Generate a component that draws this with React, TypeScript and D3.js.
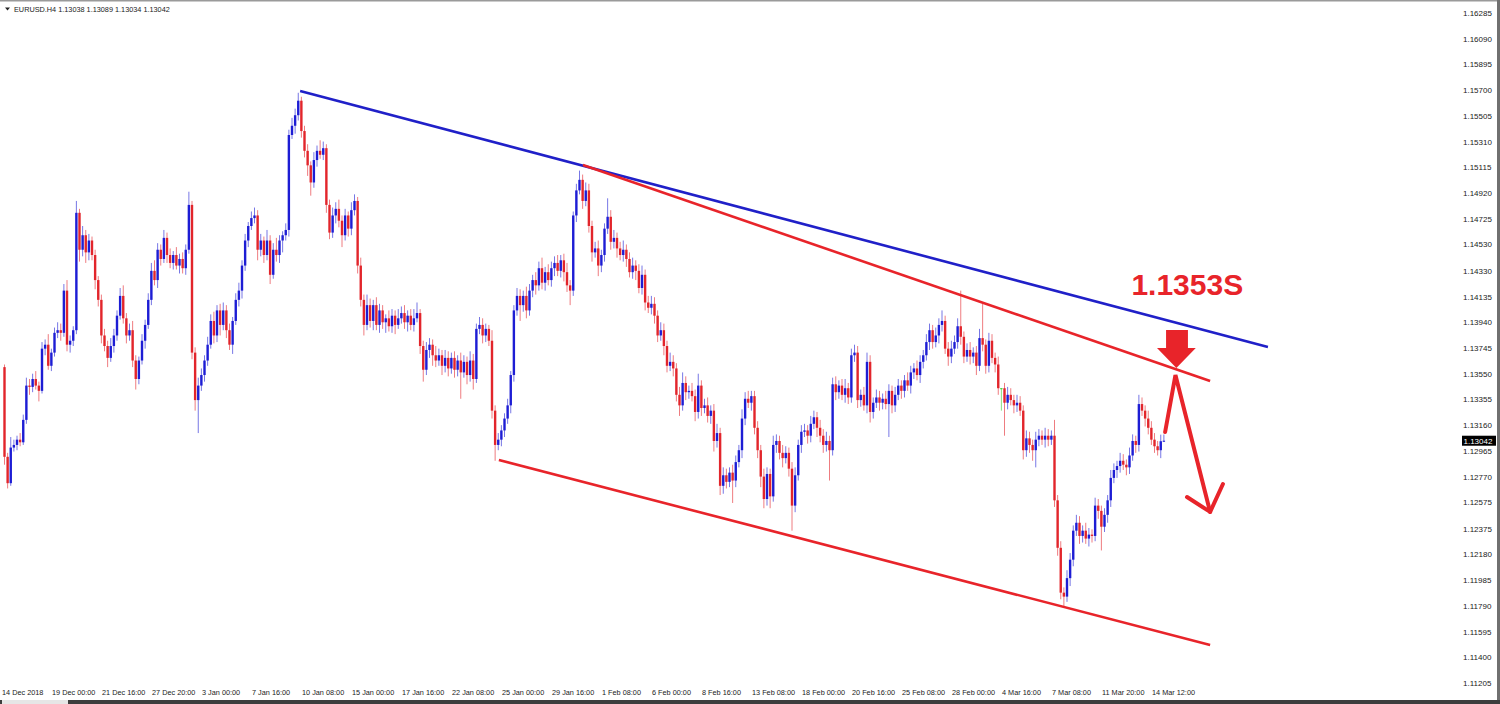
import * as d3 from 'd3';

// EURUSD H4, 14 Dec 2018 08:00 -> 14 Mar 2019 20:00
const SYMBOL = 'EURUSD.H4';
const lastBar = [1.13038, 1.13089, 1.13034, 1.13042]; // open, high, low, close
const firstOpen = 1.136;

const closes = [
  1.1292, 1.1272, 1.1299, 1.1301, 1.1305, 1.1303, 1.1320, 1.1346, 1.1345, 1.1351, 1.1346, 1.1342, 1.1374, 1.1377, 1.1361, 1.1371,
  1.1386, 1.1388, 1.1386, 1.1418, 1.1377, 1.1380, 1.1388, 1.1477, 1.1449, 1.1460, 1.1447, 1.1456, 1.1445, 1.1426, 1.1411, 1.1384,
  1.1376, 1.1367, 1.1376, 1.1384, 1.1399, 1.1414, 1.1397, 1.1384, 1.1388, 1.1365, 1.1351, 1.1365, 1.1380, 1.1392, 1.1411, 1.1433,
  1.1426, 1.1449, 1.1442, 1.1458, 1.1445, 1.1439, 1.1445, 1.1437, 1.1442, 1.1435, 1.1449, 1.1483, 1.1371, 1.1335, 1.1346, 1.1354,
  1.1365, 1.1377, 1.1395, 1.1384, 1.1403, 1.1392, 1.1403, 1.1388, 1.1377, 1.1395, 1.1411, 1.1418, 1.1437, 1.1456, 1.1467, 1.1473,
  1.1475, 1.1449, 1.1456, 1.1445, 1.1456, 1.1430, 1.1449, 1.1445, 1.1456, 1.1460, 1.1464, 1.1536, 1.1543, 1.1551, 1.1562, 1.1539,
  1.1524, 1.1513, 1.1500, 1.1517, 1.1524, 1.1521, 1.1526, 1.1483, 1.1462, 1.1475, 1.1480, 1.1471, 1.1460, 1.1475, 1.1465, 1.1479,
  1.1486, 1.1437, 1.1411, 1.1392, 1.1407, 1.1395, 1.1407, 1.1392, 1.1403, 1.1394, 1.1397, 1.1391, 1.1399, 1.1392, 1.1397, 1.1401,
  1.1394, 1.1399, 1.1392, 1.1397, 1.1401, 1.1376, 1.1358, 1.1373, 1.1377, 1.1369, 1.1365, 1.1369, 1.1361, 1.1367, 1.1359, 1.1367,
  1.1358, 1.1365, 1.1356, 1.1364, 1.1354, 1.1365, 1.1351, 1.1389, 1.1392, 1.1384, 1.1389, 1.1380, 1.1327, 1.1301, 1.1305, 1.1312,
  1.1321, 1.1331, 1.1354, 1.1403, 1.1414, 1.1407, 1.1414, 1.1403, 1.1418, 1.1426, 1.1422, 1.1435, 1.1424, 1.1432, 1.1426, 1.1435,
  1.1439, 1.1433, 1.1441, 1.1432, 1.1422, 1.1418, 1.1475, 1.1494, 1.1502, 1.1486, 1.1494, 1.1467, 1.1447, 1.1450, 1.1437, 1.1445,
  1.1465, 1.1474, 1.1455, 1.1458, 1.1450, 1.1445, 1.1449, 1.1442, 1.1432, 1.1437, 1.1433, 1.1420, 1.1430, 1.1409, 1.1405, 1.1408,
  1.1399, 1.1384, 1.1388, 1.1376, 1.1361, 1.1364, 1.1359, 1.1339, 1.1331, 1.1348, 1.1341, 1.1342, 1.1338, 1.1326, 1.1346, 1.1329,
  1.1331, 1.1323, 1.1327, 1.1304, 1.1310, 1.1270, 1.1278, 1.1273, 1.1280, 1.1274, 1.1288, 1.1297, 1.1321, 1.1336, 1.1333, 1.1338,
  1.1314, 1.1297, 1.1277, 1.1260, 1.1279, 1.1262, 1.1301, 1.1304, 1.1295, 1.1291, 1.1295, 1.1283, 1.1255, 1.1278, 1.1301, 1.1311,
  1.1312, 1.1308, 1.1317, 1.1322, 1.1314, 1.1308, 1.1301, 1.1304, 1.1297, 1.1347, 1.1341, 1.1346, 1.1339, 1.1344, 1.1337, 1.1369,
  1.1371, 1.1335, 1.1339, 1.1331, 1.1364, 1.1326, 1.1333, 1.1337, 1.1333, 1.1336, 1.1332, 1.1342, 1.1331, 1.1339, 1.1346, 1.1342,
  1.1350, 1.1346, 1.1356, 1.1359, 1.1354, 1.1364, 1.1369, 1.1379, 1.1388, 1.1379, 1.1384, 1.1392, 1.1395, 1.1374, 1.1368, 1.1374,
  1.1379, 1.1391, 1.1383, 1.1368, 1.1373, 1.1368, 1.1371, 1.1361, 1.1382, 1.1377, 1.1361, 1.1380, 1.1367, 1.1362, 1.1344, 1.1344,
  1.1333, 1.1339, 1.1335, 1.1331, 1.1333, 1.1327, 1.1297, 1.1306, 1.1301, 1.1297, 1.1305, 1.1308, 1.1305, 1.1308, 1.1305, 1.1308,
  1.1259, 1.1223, 1.1189, 1.1186, 1.1200, 1.1214, 1.1236, 1.1242, 1.1232, 1.1236, 1.1230, 1.1233, 1.1232, 1.1255, 1.1251, 1.1239,
  1.1248, 1.1259, 1.1276, 1.1282, 1.1285, 1.1289, 1.1286, 1.1284, 1.1293, 1.1304, 1.1301, 1.1332, 1.1327, 1.1321, 1.1314, 1.1305,
  1.1300, 1.1297, 1.13038, 1.13042,
];

// wick length beyond the body, in pips
const wickUp = [
  2, 3, 8, 4, 3, 5, 4, 6, 5, 4, 6, 3, 5, 4, 8, 3,
  4, 6, 5, 5, 8, 4, 3, 9, 3, 7, 4, 5, 3, 4, 3, 4,
  5, 4, 6, 5, 4, 6, 8, 4, 5, 7, 4, 3, 5, 4, 5, 6,
  8, 5, 4, 6, 4, 5, 3, 6, 4, 5, 4, 10, 3, 4, 6, 5,
  4, 6, 5, 7, 4, 5, 6, 4, 5, 3, 5, 6, 4, 5, 3, 5,
  6, 4, 5, 3, 8, 4, 5, 9, 4, 3, 5, 4, 6, 5, 6, 3,
  4, 5, 3, 6, 4, 8, 5, 3, 4, 6, 5, 7, 4, 5, 3, 6,
  5, 3, 6, 4, 8, 5, 4, 6, 5, 4, 3, 6, 5, 4, 7, 5,
  6, 4, 5, 7, 8, 3, 4, 6, 5, 4, 7, 5, 4, 6, 5, 4,
  5, 4, 6, 5, 4, 7, 5, 4, 6, 5, 4, 3, 8, 4, 5, 4,
  4, 5, 3, 4, 6, 5, 4, 7, 5, 4, 6, 5, 8, 4, 6, 5,
  5, 6, 4, 5, 7, 4, 3, 5, 7, 4, 6, 5, 4, 5, 6, 4,
  4, 14, 5, 6, 4, 5, 7, 4, 5, 6, 4, 5, 7, 4, 5, 6,
  5, 4, 6, 5, 4, 7, 5, 4, 6, 8, 5, 4, 6, 5, 9, 4,
  5, 6, 4, 5, 7, 4, 6, 5, 4, 6, 5, 4, 7, 5, 6, 4,
  4, 5, 4, 6, 5, 4, 7, 5, 4, 6, 5, 4, 5, 6, 4, 5,
  5, 4, 6, 5, 4, 6, 5, 7, 4, 5, 6, 4, 5, 7, 4, 5,
  6, 5, 4, 6, 7, 5, 4, 6, 5, 4, 6, 5, 4, 6, 5, 4,
  4, 6, 5, 4, 6, 5, 4, 6, 5, 4, 6, 5, 8, 4, 5, 6,
  5, 6, 27, 4, 5, 6, 4, 5, 7, 26, 4, 6, 5, 4, 6, 0,
  4, 6, 5, 4, 6, 5, 4, 6, 5, 4, 6, 5, 4, 6, 5, 4,
  12, 4, 5, 4, 6, 5, 4, 6, 5, 4, 6, 5, 4, 6, 5, 4,
  5, 4, 6, 5, 4, 6, 5, 4, 6, 5, 4, 7, 5, 4, 6, 5,
  5, 4, 5, 5,
];

const wickDown = [
  6, 4, 2, 3, 4, 3, 2, 3, 6, 4, 3, 8, 2, 5, 3, 4,
  3, 4, 6, 3, 5, 6, 4, 3, 9, 5, 8, 6, 4, 7, 5, 6,
  4, 7, 3, 5, 4, 3, 4, 6, 4, 5, 8, 4, 3, 6, 3, 4,
  4, 6, 5, 3, 6, 4, 5, 3, 6, 4, 5, 3, 5, 8, 25, 4,
  5, 4, 3, 6, 5, 8, 4, 6, 4, 7, 3, 5, 6, 4, 5, 3,
  4, 8, 5, 6, 4, 7, 3, 5, 6, 9, 4, 5, 3, 6, 4, 5,
  5, 8, 10, 4, 5, 3, 4, 6, 5, 4, 6, 5, 9, 4, 6, 5,
  4, 6, 5, 8, 4, 5, 7, 4, 6, 5, 8, 4, 5, 7, 3, 4,
  5, 7, 4, 5, 3, 6, 9, 4, 6, 8, 5, 4, 7, 5, 6, 4,
  6, 5, 20, 4, 7, 5, 8, 3, 4, 6, 5, 4, 6, 12, 4, 5,
  5, 4, 6, 5, 4, 12, 5, 6, 4, 5, 7, 4, 5, 6, 4, 5,
  6, 4, 5, 7, 5, 11, 4, 5, 3, 6, 4, 5, 7, 4, 8, 5,
  5, 4, 6, 5, 7, 4, 5, 6, 4, 5, 7, 4, 5, 6, 4, 5,
  6, 5, 4, 7, 5, 4, 6, 5, 8, 4, 6, 5, 4, 7, 5, 6,
  4, 5, 6, 8, 5, 7, 6, 5, 4, 17, 5, 4, 6, 5, 4, 6,
  5, 6, 8, 7, 5, 9, 4, 6, 5, 7, 4, 6, 19, 5, 4, 6,
  4, 6, 5, 4, 7, 5, 6, 5, 23, 4, 6, 5, 4, 6, 5, 4,
  5, 6, 5, 4, 6, 8, 5, 4, 6, 5, 4, 25, 6, 5, 4, 6,
  5, 4, 6, 5, 4, 6, 5, 4, 6, 5, 4, 6, 5, 4, 7, 5,
  4, 5, 6, 5, 4, 6, 5, 7, 4, 5, 6, 5, 4, 6, 5, 17,
  25, 5, 4, 6, 5, 4, 7, 5, 6, 8, 13, 5, 4, 6, 5, 4,
  5, 6, 5, 8, 4, 6, 5, 4, 6, 5, 4, 6, 5, 4, 6, 18,
  4, 6, 5, 4, 6, 5, 4, 6, 5, 4, 6, 5, 4, 6, 5, 4,
  5, 4, 6, 1,
];

const priceTicks = [
  1.16285, 1.1609, 1.15895, 1.157, 1.15505, 1.1531, 1.15115, 1.1492, 1.14725, 1.1453, 1.1433, 1.14135, 1.1394, 1.13745,
  1.1355, 1.13355, 1.1316, 1.12965, 1.1277, 1.12575, 1.12375, 1.1218, 1.11985, 1.1179, 1.11595, 1.114, 1.11205,
];

const timeLabels = [
  '14 Dec 2018', '19 Dec 00:00', '21 Dec 16:00', '27 Dec 20:00', '3 Jan 00:00', '7 Jan 16:00', '10 Jan 08:00', '15 Jan 00:00',
  '17 Jan 16:00', '22 Jan 08:00', '25 Jan 00:00', '29 Jan 16:00', '1 Feb 08:00', '6 Feb 00:00', '8 Feb 16:00', '13 Feb 08:00',
  '18 Feb 00:00', '20 Feb 16:00', '25 Feb 08:00', '28 Feb 00:00', '4 Mar 16:00', '7 Mar 08:00', '11 Mar 20:00', '14 Mar 12:00',
];
const BARS_PER_LABEL = 16;

// trend lines as [bar index, price]
const blueLine: [number, number][] = [[94.6, 1.15694], [404.3, 1.13753]];
const upperRedLine: [number, number][] = [[185.1, 1.15133], [385.8, 1.13495]];
const lowerRedLine: [number, number][] = [[158.2, 1.12896], [385.8, 1.11493]];

// annotations
const targetLabel = '1.1353S';
const targetLabelAt: [number, number] = [360.6, 1.14147];
const downBlock: [number, number][] = [
  [371.7, 1.13881], [378.7, 1.13881], [378.7, 1.13745], [381.2, 1.13745],
  [375.0, 1.13593], [368.8, 1.13745], [371.7, 1.13745],
];
const bouncePath: [number, number][] = [[371.4, 1.13108], [374.7, 1.1354], [385.8, 1.12502]];
const bounceHead: [number, number][] = [[378.4, 1.12615], [385.8, 1.12502], [389.9, 1.12714]];

const W = 1500;
const H = 704;
const FONT = "'Liberation Sans', Arial, sans-serif";
const BULL = '#1d1dd4';
const BEAR = '#e2252b';
const DOJI = '#3acc2c';
const RED = '#e8242a';

const x = d3.scaleLinear().domain([0, 455]).range([4.5, 4.5 + 455 * 3.125]);
const y = d3.scaleLinear().domain([1.11205, 1.16285]).range([683, 13]);

const line = d3.line<[number, number]>()
  .x((d) => x(d[0]))
  .y((d) => y(d[1]));

export default function App() {
  const n = closes.length;
  const candles = closes.map((c, i) => {
    const o = i === 0 ? firstOpen : (i === n - 1 ? lastBar[0] : closes[i - 1]);
    let hi = Math.max(o, c) + wickUp[i] / 10000;
    let lo = Math.min(o, c) - wickDown[i] / 10000;
    if (i === n - 1) {
      hi = lastBar[1];
      lo = lastBar[2];
    }
    const color = c > o ? BULL : c < o ? BEAR : DOJI;
    return { i, o, c, hi, lo, color };
  });

  const last = lastBar[3];

  return (
    <div style={{ position: 'absolute', left: 0, top: 0 }}>
      <svg width={W} height={H} style={{ display: 'block', background: '#fff' }} fontFamily={FONT}>
        {/* frame */}
        <rect x={0} y={0} width={W} height={1.5} fill="#9a9a9a" />
        <rect x={1497} y={0} width={3} height={H} fill="#707070" />
        <rect x={0} y={700} width={W} height={4} fill="#3d3d3d" />
        <rect x={2} y={700} width={66} height={4} fill="#e6e6e6" />

        {/* header */}
        <path d="M5,7.5 L10,7.5 L7.5,10.5 Z" fill="#222" />
        <text x={14} y={12} fontSize={7.3} fill="#222">
          {`${SYMBOL}  ${lastBar.map((v) => v.toFixed(5)).join(' ')}`}
        </text>

        {/* candles */}
        <g>
          {candles.map((d) => (
            <line
              key={`w${d.i}`}
              x1={x(d.i)}
              x2={x(d.i)}
              y1={y(d.hi)}
              y2={y(d.lo)}
              stroke={d.color}
              strokeOpacity={0.6}
              strokeWidth={1}
            />
          ))}
          {candles.map((d) => {
            const top = y(Math.max(d.o, d.c));
            const h = Math.max(1, y(Math.min(d.o, d.c)) - top);
            return (
              <rect key={`b${d.i}`} x={x(d.i) - 1.2} y={top} width={2.4} height={h} fill={d.color} />
            );
          })}
        </g>

        {/* trend lines */}
        <path d={line(blueLine) ?? ''} stroke="#2020c8" strokeWidth={2.6} fill="none" />
        <path d={line(upperRedLine) ?? ''} stroke={RED} strokeWidth={2.6} fill="none" />
        <path d={line(lowerRedLine) ?? ''} stroke={RED} strokeWidth={2.6} fill="none" />

        {/* annotations */}
        <text
          x={x(targetLabelAt[0])}
          y={y(targetLabelAt[1])}
          fontSize={30}
          fontWeight="bold"
          fill={RED}
        >
          {targetLabel}
        </text>
        <path d={(line(downBlock) ?? '') + 'Z'} fill={RED} />
        <path d={line(bouncePath) ?? ''} stroke={RED} strokeWidth={4} fill="none" strokeLinejoin="miter" strokeLinecap="round" />
        <path d={line(bounceHead) ?? ''} stroke={RED} strokeWidth={4} fill="none" strokeLinejoin="round" strokeLinecap="round" />

        {/* price axis */}
        {priceTicks.map((p) => (
          <text key={p} x={1463} y={y(p) + 3} fontSize={8} fill="#222">
            {p.toFixed(5)}
          </text>
        ))}
        <rect x={1462} y={y(last) - 5} width={34} height={10} fill="#000" />
        <text x={1463.5} y={y(last) + 3} fontSize={8} fill="#fff">
          {last.toFixed(5)}
        </text>

        {/* time axis */}
        {timeLabels.map((t, k) => (
          <text key={t} x={x(k * BARS_PER_LABEL) - 2.5} y={695} fontSize={7.3} fill="#222">
            {t}
          </text>
        ))}
      </svg>
    </div>
  );
}
